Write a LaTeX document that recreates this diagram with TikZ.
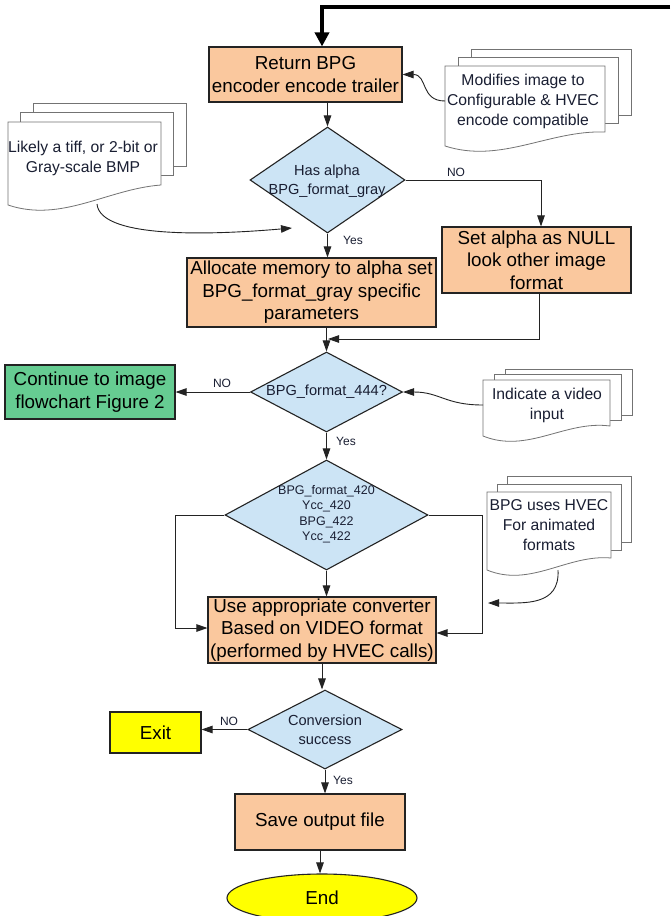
\documentclass[tikz,border=0pt]{standalone}
\usepackage{fontspec}
\setmainfont{Liberation Sans}
\usetikzlibrary{shapes.geometric,arrows.meta}

\definecolor{peach}{RGB}{250,200,158}
\definecolor{paleblue}{RGB}{204,228,245}
\definecolor{mint}{RGB}{102,204,146}
\definecolor{lemon}{RGB}{255,255,0}
\definecolor{ink}{RGB}{25,30,50}
\definecolor{edge}{RGB}{35,35,35}

\newcommand\fsz[2]{\fontsize{#1}{#2}\selectfont}

% stack of three document sheets: front sheet has a wavy lower edge
% #1 left x, #2 top y, #3 right x, #4 lower-left y, #5 lower-right y, #6 dx, #7 dy
\newcommand\pagestack[7]{%
  \foreach \k in {2,1}{%
    \filldraw[notepage] ({#1+\k*(#6)},{#2+\k*(#7)}) rectangle ({#3+\k*(#6)},{#5+\k*(#7)});
  }
  \filldraw[notepage] (#1,#2) -- (#3,#2) -- (#3,#5)
    .. controls ({#1+0.65*(#3-#1)},{#4-16}) and ({#1+0.35*(#3-#1)},{#4+18}) .. (#1,#4) -- cycle;
}

\tikzset{
  procbox/.style={draw=edge, line width=1.1pt, fill=peach, align=center,
    inner sep=0pt, text=black, font=\fsz{18.8}{22.5}},
  decide/.style={draw=edge, line width=1.1pt, fill=paleblue, shape=diamond, inner sep=0pt},
  decidetext/.style={align=center, inner sep=0pt, text=ink, font=\fsz{14.6}{19}},
  doctext/.style={align=center, inner sep=0pt, text=ink, font=\fsz{15.7}{20}},
  tag/.style={inner sep=0pt, text=ink, font=\fsz{12}{14}},
  notepage/.style={fill=white, draw=black!55, line width=0.8pt},
  flow/.style={draw=edge, line width=0.9pt, -{Triangle[length=11pt,width=7.5pt]}},
  bigflow/.style={draw=black, line width=3.4pt, -{Triangle[length=14pt,width=14pt]}},
}

\begin{document}
\begin{tikzpicture}[x=1pt,y=-1pt]
  \useasboundingbox (0,0) rectangle (670,916);
  \fill[white] (0,0) rectangle (670,916);

  % side notes
  \pagestack{445}{66}{605}{146}{132}{13}{-8.5}
  \pagestack{8}{122}{161}{205}{185}{12.5}{-9.5}
  \pagestack{483}{380}{610}{436}{426}{11}{-5.5}
  \pagestack{487}{492}{611}{570}{558}{10}{-8}

  \node[doctext] (modnote) at (523,101) {Modifies image to\\Configurable \& HVEC\\encode compatible};
  \node[doctext] (graynote) at (83,158) {Likely a tiff, or 2-bit or\\Gray-scale BMP};
  \node[doctext] (vidnote) at (547,405) {Indicate a video\\input};
  \node[doctext] (hvnote) at (549,525) {BPG uses HVEC\\For animated\\formats};

  % process boxes
  \node[procbox, minimum width=193pt, minimum height=55pt] (ret) at (305.5,74.5)
    {Return BPG\\encoder encode trailer};
  \node[procbox, minimum width=249pt, minimum height=69pt] (alloc) at (311.5,292.5)
    {Allocate memory to alpha set\\BPG\_format\_gray specific\\parameters};
  \node[procbox, minimum width=189pt, minimum height=66pt] (setn) at (536.5,260)
    {Set alpha as NULL\\look other image\\format};
  \node[procbox, fill=mint, minimum width=170pt, minimum height=54pt] (cont) at (90,392)
    {Continue to image\\flowchart Figure 2};
  \node[procbox, minimum width=228pt, minimum height=66pt] (conv) at (322,630)
    {Use appropriate converter\\Based on VIDEO format\\(performed by HVEC calls)};
  \node[procbox, fill=lemon, minimum width=91pt, minimum height=41pt] (exit) at (155.5,732.5) {Exit};
  \node[procbox, minimum width=170pt, minimum height=56pt] (save) at (320,822) {Save output file};
  \node[procbox, fill=lemon, shape=ellipse, minimum width=190pt, minimum height=48pt] (end) at (322,898) {End};

  % decisions
  \node[decide, minimum width=155pt, minimum height=106pt] (d1) at (327.5,180) {};
  \node[decidetext] (d1t) at (327,181) {Has alpha\\BPG\_format\_gray};
  \node[decide, minimum width=152pt, minimum height=80pt] (d2) at (326.5,392) {};
  \node[decidetext] (d2t) at (326.5,392) {BPG\_format\_444?};
  \node[decide, minimum width=203pt, minimum height=110pt] (d3) at (326.5,515) {};
  \node[decidetext, font=\fsz{12.5}{15.5}] (d3t) at (326.5,514) {BPG\_format\_420\\Ycc\_420\\BPG\_422\\Ycc\_422};
  \node[decide, minimum width=154pt, minimum height=79pt] (d4) at (325,729.5) {};
  \node[decidetext] (d4t) at (325,730) {Conversion\\success};

  % branch labels
  \node[tag] (no1) at (456,172) {NO};
  \node[tag] (yes1) at (353,240) {Yes};
  \node[tag] (no2) at (222,383) {NO};
  \node[tag] (yes2) at (346,441) {Yes};
  \node[tag] (no4) at (229,721) {NO};
  \node[tag] (yes4) at (343,780) {Yes};

  % free ends of connectors
  \coordinate (feed) at (670,7);
  \coordinate (modfeed) at (445,101);
  \coordinate (grayfeed) at (97,204);
  \coordinate (grayend) at (292,228);
  \coordinate (merge) at (328,339);
  \coordinate (vidfeed) at (483,405);
  \coordinate (lrail) at (175,628);
  \coordinate (rrail) at (482,633);
  \coordinate (hvfeed) at (558,570);
  \coordinate (hvend) at (488,603);

  % connectors
  \draw[bigflow] (feed) -| ([xshift=16.5pt]ret.north);
  \draw[flow] (modfeed) .. controls (420,101) and (428,74.5) .. (ret.east);
  \draw[flow] (ret.south -| d1.north) -- (d1.north);
  \draw[flow] (grayfeed) .. controls (100,237) and (200,236) .. (grayend);
  \draw[flow] (d1.south) -- (d1.south |- alloc.north);
  \draw[flow] (d1.east) -| ([xshift=4.5pt]setn.north);
  \draw[flow] ([xshift=2.5pt]setn.south) |- (merge);
  \draw[flow] (alloc.south -| d2.north) -- (d2.north);
  \draw[flow] (d2.west) -- (cont.east);
  \draw[flow] (vidfeed) .. controls (445,405) and (440,392) .. (d2.east);
  \draw[flow] (d2.south) -- (d3.north);
  \draw[flow] (d3.west) -| (lrail) -- (lrail -| conv.west);
  \draw[flow] (d3.east) -| (rrail) -- (rrail -| conv.east);
  \draw[flow] (hvfeed) .. controls (560,606) and (525,603) .. (hvend);
  \draw[flow] (d3.south) -- (d3.south |- conv.north);
  \draw[flow] (conv.south) -- (conv.south |- d4.north);
  \draw[flow] (d4.west) -- (d4.west -| exit.east);
  \draw[flow] (d4.south) -- (d4.south |- save.north);
  \draw[flow] (save.south) -- (save.south |- end.north);
\end{tikzpicture}
\end{document}
